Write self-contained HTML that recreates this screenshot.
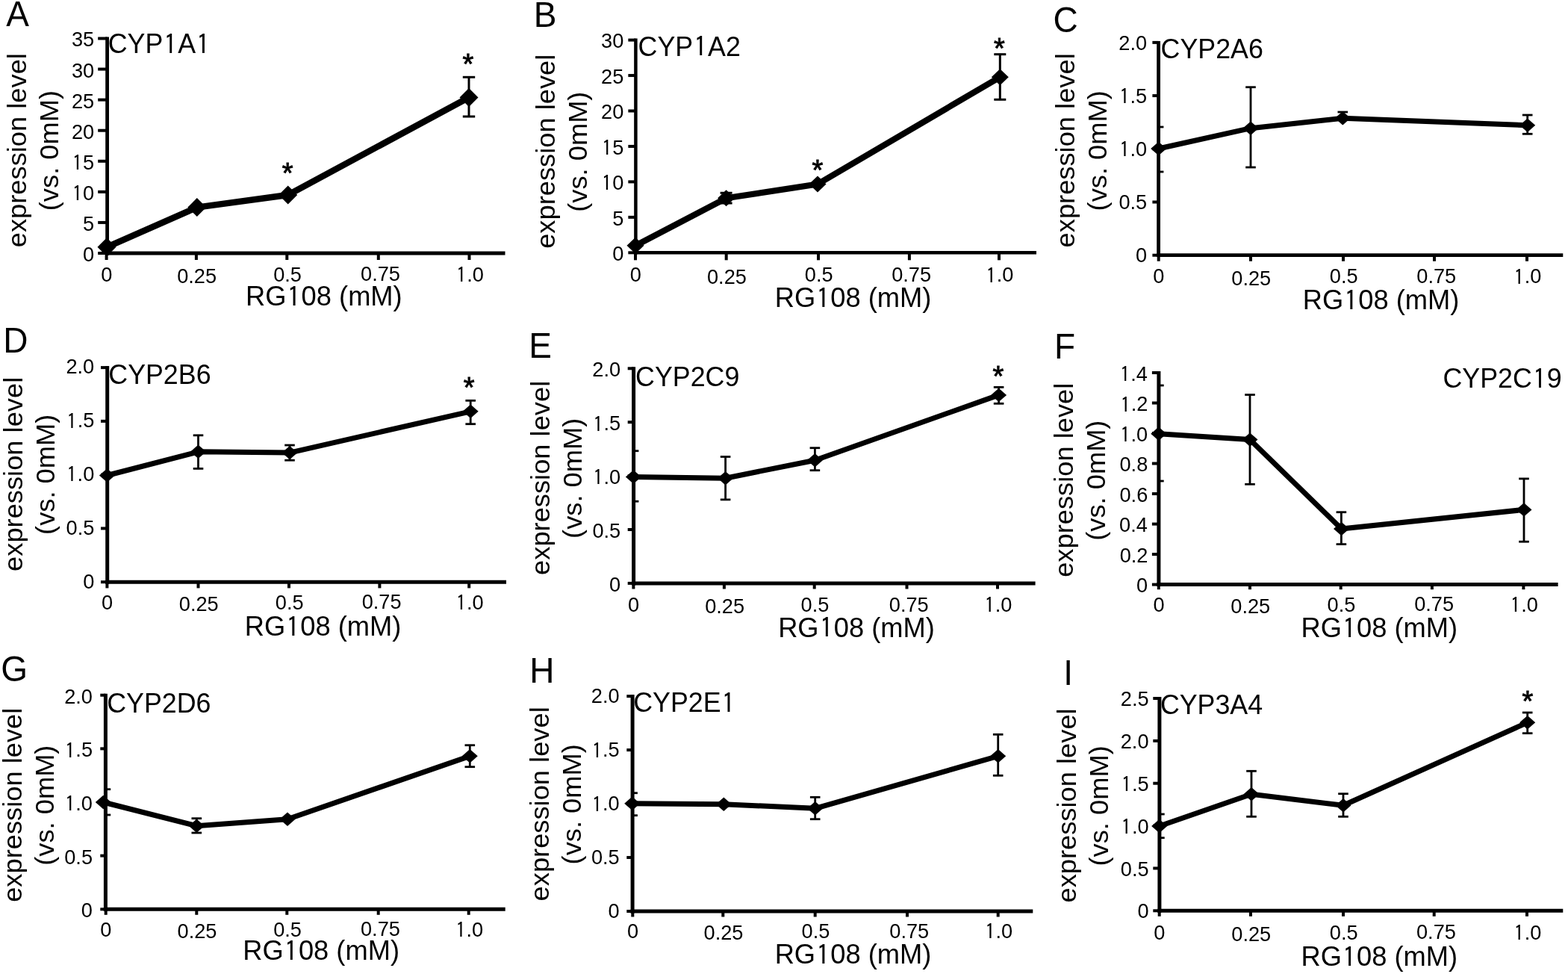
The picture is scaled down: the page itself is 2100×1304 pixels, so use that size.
<!DOCTYPE html>
<html><head><meta charset="utf-8"><style>
html,body{margin:0;padding:0;background:#fff;overflow:hidden;width:2100px;height:1304px;}
svg{display:block;}
text{font-family:"Liberation Sans", sans-serif;fill:#000;}
</style></head><body>
<svg width="2100" height="1304" viewBox="0 0 2100 1304">
<rect width="2100" height="1304" fill="#fff"/>
<text transform="translate(8.45,34.70) scale(1,1.03)" x="-0.09" y="0" font-size="46">A</text>
<text transform="translate(146.50,71.00) scale(1,1.03)" x="-1.82" y="0" font-size="35.8">CYP<tspan font-family="IPAGothic, Liberation Sans, sans-serif" dx="1.07" dy="1.83">1</tspan><tspan dx="0.93" dy="-1.83">A</tspan><tspan font-family="IPAGothic, Liberation Sans, sans-serif" dx="1.07" dy="1.83">1</tspan></text>
<text transform="translate(34.90,201.56) rotate(-90) scale(1,0.965)" x="-129.7" y="0" font-size="36.3">expression level</text>
<text transform="translate(77.90,201.56) rotate(-90) scale(1,0.965)" x="-80.66" y="0" font-size="36.3">(vs. 0mM)</text>
<text transform="translate(332.00,409.10) scale(1,1.03)" x="-2.98" y="0" font-size="36.3">RG<tspan font-family="IPAGothic, Liberation Sans, sans-serif" dx="1.09" dy="1.85">1</tspan><tspan dx="0.94" dy="-1.85">08 (mM)</tspan></text>
<line x1="131.20" y1="339.00" x2="143.60" y2="339.00" stroke="#000" stroke-width="4" stroke-linecap="butt"/>
<text transform="translate(125.10,349.99) scale(1,1.0)" x="-14.06" y="0" font-size="27.2">0</text>
<line x1="131.20" y1="297.93" x2="143.60" y2="297.93" stroke="#000" stroke-width="4" stroke-linecap="butt"/>
<text transform="translate(125.10,308.92) scale(1,1.0)" x="-13.99" y="0" font-size="27.2">5</text>
<line x1="131.20" y1="256.86" x2="143.60" y2="256.86" stroke="#000" stroke-width="4" stroke-linecap="butt"/>
<text transform="translate(125.10,267.85) scale(1,1.0)" x="-29.19" y="0" font-size="27.2"><tspan font-family="IPAGothic, Liberation Sans, sans-serif" dx="0.82" dy="1.39">1</tspan><tspan dx="0.71" dy="-1.39">0</tspan></text>
<line x1="131.20" y1="215.79" x2="143.60" y2="215.79" stroke="#000" stroke-width="4" stroke-linecap="butt"/>
<text transform="translate(125.10,226.78) scale(1,1.0)" x="-29.11" y="0" font-size="27.2"><tspan font-family="IPAGothic, Liberation Sans, sans-serif" dx="0.82" dy="1.39">1</tspan><tspan dx="0.71" dy="-1.39">5</tspan></text>
<line x1="131.20" y1="174.71" x2="143.60" y2="174.71" stroke="#000" stroke-width="4" stroke-linecap="butt"/>
<text transform="translate(125.10,185.71) scale(1,1.0)" x="-29.19" y="0" font-size="27.2">20</text>
<line x1="131.20" y1="133.64" x2="143.60" y2="133.64" stroke="#000" stroke-width="4" stroke-linecap="butt"/>
<text transform="translate(125.10,144.64) scale(1,1.0)" x="-29.11" y="0" font-size="27.2">25</text>
<line x1="131.20" y1="92.57" x2="143.60" y2="92.57" stroke="#000" stroke-width="4" stroke-linecap="butt"/>
<text transform="translate(125.10,103.56) scale(1,1.0)" x="-29.19" y="0" font-size="27.2">30</text>
<line x1="131.20" y1="51.50" x2="143.60" y2="51.50" stroke="#000" stroke-width="4" stroke-linecap="butt"/>
<text transform="translate(125.10,62.49) scale(1,1.0)" x="-29.11" y="0" font-size="27.2">35</text>
<line x1="142.60" y1="339.00" x2="142.60" y2="348.00" stroke="#000" stroke-width="4" stroke-linecap="butt"/>
<text transform="translate(142.80,376.90) scale(1,1.0)" x="-7.56" y="0" font-size="27.2">0</text>
<line x1="262.90" y1="339.00" x2="262.90" y2="348.00" stroke="#000" stroke-width="4" stroke-linecap="butt"/>
<text transform="translate(263.60,379.20) scale(1,1.0)" x="-26.43" y="0" font-size="27.2">0.25</text>
<line x1="384.30" y1="339.00" x2="384.30" y2="348.00" stroke="#000" stroke-width="4" stroke-linecap="butt"/>
<text transform="translate(385.00,376.90) scale(1,1.0)" x="-18.87" y="0" font-size="27.2">0.5</text>
<line x1="506.80" y1="339.00" x2="506.80" y2="348.00" stroke="#000" stroke-width="4" stroke-linecap="butt"/>
<text transform="translate(509.50,376.40) scale(1,1.0)" x="-26.43" y="0" font-size="27.2">0.75</text>
<line x1="628.50" y1="339.00" x2="628.50" y2="348.00" stroke="#000" stroke-width="4" stroke-linecap="butt"/>
<text transform="translate(630.50,376.90) scale(1,1.0)" x="-20.39" y="0" font-size="27.2"><tspan font-family="IPAGothic, Liberation Sans, sans-serif" dx="0.82" dy="1.39">1</tspan><tspan dx="0.71" dy="-1.39">.0</tspan></text>
<line x1="143.60" y1="49.50" x2="143.60" y2="341.40" stroke="#000" stroke-width="4.8" stroke-linecap="butt"/>
<line x1="141.20" y1="339.00" x2="676.50" y2="339.00" stroke="#000" stroke-width="4.8" stroke-linecap="butt"/>
<polyline points="143.00,330.80 263.80,277.60 385.70,261.00 628.00,130.40" fill="none" stroke="#000" stroke-width="8.5" stroke-linejoin="round"/>
<line x1="628.00" y1="103.30" x2="628.00" y2="156.00" stroke="#000" stroke-width="3" stroke-linecap="butt"/>
<line x1="619.80" y1="103.30" x2="636.20" y2="103.30" stroke="#000" stroke-width="3" stroke-linecap="butt"/>
<line x1="619.80" y1="156.00" x2="636.20" y2="156.00" stroke="#000" stroke-width="3" stroke-linecap="butt"/>
<polygon points="130.50,330.80 143.00,318.30 155.50,330.80 143.00,343.30" fill="#000"/>
<polygon points="251.30,277.60 263.80,265.10 276.30,277.60 263.80,290.10" fill="#000"/>
<polygon points="373.20,261.00 385.70,248.50 398.20,261.00 385.70,273.50" fill="#000"/>
<polygon points="615.50,130.40 628.00,117.90 640.50,130.40 628.00,142.90" fill="#000"/>
<text transform="translate(385.20,244.69) scale(1,1.03)" x="-7.4" y="0" font-size="38" stroke="#000" stroke-width="0.9">*</text>
<text transform="translate(626.80,99.29) scale(1,1.03)" x="-7.4" y="0" font-size="38" stroke="#000" stroke-width="0.9">*</text>
<text transform="translate(718.60,35.50) scale(1,1.03)" x="-3.77" y="0" font-size="46">B</text>
<text transform="translate(856.40,74.60) scale(1,1.03)" x="-1.82" y="0" font-size="35.8">CYP<tspan font-family="IPAGothic, Liberation Sans, sans-serif" dx="1.07" dy="1.83">1</tspan><tspan dx="0.93" dy="-1.83">A2</tspan></text>
<text transform="translate(742.90,203.16) rotate(-90) scale(1,0.965)" x="-129.7" y="0" font-size="36.3">expression level</text>
<text transform="translate(785.90,203.16) rotate(-90) scale(1,0.965)" x="-80.66" y="0" font-size="36.3">(vs. 0mM)</text>
<text transform="translate(1040.70,411.00) scale(1,1.03)" x="-2.98" y="0" font-size="36.3">RG<tspan font-family="IPAGothic, Liberation Sans, sans-serif" dx="1.09" dy="1.85">1</tspan><tspan dx="0.94" dy="-1.85">08 (mM)</tspan></text>
<line x1="841.35" y1="338.30" x2="851.40" y2="338.30" stroke="#000" stroke-width="4" stroke-linecap="butt"/>
<text transform="translate(834.20,348.99) scale(1,1.0)" x="-14.06" y="0" font-size="27.2">0</text>
<line x1="841.35" y1="290.85" x2="851.40" y2="290.85" stroke="#000" stroke-width="4" stroke-linecap="butt"/>
<text transform="translate(834.20,301.54) scale(1,1.0)" x="-13.99" y="0" font-size="27.2">5</text>
<line x1="841.35" y1="243.40" x2="851.40" y2="243.40" stroke="#000" stroke-width="4" stroke-linecap="butt"/>
<text transform="translate(834.20,254.09) scale(1,1.0)" x="-29.19" y="0" font-size="27.2"><tspan font-family="IPAGothic, Liberation Sans, sans-serif" dx="0.82" dy="1.39">1</tspan><tspan dx="0.71" dy="-1.39">0</tspan></text>
<line x1="841.35" y1="195.95" x2="851.40" y2="195.95" stroke="#000" stroke-width="4" stroke-linecap="butt"/>
<text transform="translate(834.20,206.64) scale(1,1.0)" x="-29.11" y="0" font-size="27.2"><tspan font-family="IPAGothic, Liberation Sans, sans-serif" dx="0.82" dy="1.39">1</tspan><tspan dx="0.71" dy="-1.39">5</tspan></text>
<line x1="841.35" y1="148.50" x2="851.40" y2="148.50" stroke="#000" stroke-width="4" stroke-linecap="butt"/>
<text transform="translate(834.20,159.19) scale(1,1.0)" x="-29.19" y="0" font-size="27.2">20</text>
<line x1="841.35" y1="101.05" x2="851.40" y2="101.05" stroke="#000" stroke-width="4" stroke-linecap="butt"/>
<text transform="translate(834.20,111.74) scale(1,1.0)" x="-29.11" y="0" font-size="27.2">25</text>
<line x1="841.35" y1="53.60" x2="851.40" y2="53.60" stroke="#000" stroke-width="4" stroke-linecap="butt"/>
<text transform="translate(834.20,64.29) scale(1,1.0)" x="-29.19" y="0" font-size="27.2">30</text>
<line x1="851.00" y1="338.30" x2="851.00" y2="348.30" stroke="#000" stroke-width="4" stroke-linecap="butt"/>
<text transform="translate(851.20,377.20) scale(1,1.0)" x="-7.56" y="0" font-size="27.2">0</text>
<line x1="972.70" y1="338.30" x2="972.70" y2="348.30" stroke="#000" stroke-width="4" stroke-linecap="butt"/>
<text transform="translate(973.40,379.50) scale(1,1.0)" x="-26.43" y="0" font-size="27.2">0.25</text>
<line x1="1096.00" y1="338.30" x2="1096.00" y2="348.30" stroke="#000" stroke-width="4" stroke-linecap="butt"/>
<text transform="translate(1096.70,377.20) scale(1,1.0)" x="-18.87" y="0" font-size="27.2">0.5</text>
<line x1="1217.90" y1="338.30" x2="1217.90" y2="348.30" stroke="#000" stroke-width="4" stroke-linecap="butt"/>
<text transform="translate(1220.60,376.70) scale(1,1.0)" x="-26.43" y="0" font-size="27.2">0.75</text>
<line x1="1338.00" y1="338.30" x2="1338.00" y2="348.30" stroke="#000" stroke-width="4" stroke-linecap="butt"/>
<text transform="translate(1340.00,377.20) scale(1,1.0)" x="-20.39" y="0" font-size="27.2"><tspan font-family="IPAGothic, Liberation Sans, sans-serif" dx="0.82" dy="1.39">1</tspan><tspan dx="0.71" dy="-1.39">.0</tspan></text>
<line x1="851.40" y1="51.60" x2="851.40" y2="340.55" stroke="#000" stroke-width="4.5" stroke-linecap="butt"/>
<line x1="849.15" y1="338.30" x2="1388.00" y2="338.30" stroke="#000" stroke-width="4.5" stroke-linecap="butt"/>
<polyline points="851.00,328.80 972.60,265.30 1095.00,246.50 1339.30,103.20" fill="none" stroke="#000" stroke-width="8.2" stroke-linejoin="round"/>
<line x1="1339.30" y1="72.70" x2="1339.30" y2="133.30" stroke="#000" stroke-width="3" stroke-linecap="butt"/>
<line x1="1331.30" y1="72.70" x2="1347.30" y2="72.70" stroke="#000" stroke-width="3" stroke-linecap="butt"/>
<line x1="1331.30" y1="133.30" x2="1347.30" y2="133.30" stroke="#000" stroke-width="3" stroke-linecap="butt"/>
<line x1="972.60" y1="258.30" x2="972.60" y2="272.00" stroke="#000" stroke-width="3" stroke-linecap="butt"/>
<line x1="964.60" y1="258.30" x2="980.60" y2="258.30" stroke="#000" stroke-width="3" stroke-linecap="butt"/>
<line x1="964.60" y1="272.00" x2="980.60" y2="272.00" stroke="#000" stroke-width="3" stroke-linecap="butt"/>
<polygon points="839.50,328.80 851.00,317.80 862.50,328.80 851.00,339.80" fill="#000"/>
<polygon points="961.10,265.30 972.60,254.30 984.10,265.30 972.60,276.30" fill="#000"/>
<polygon points="1083.50,246.50 1095.00,235.50 1106.50,246.50 1095.00,257.50" fill="#000"/>
<polygon points="1327.80,103.20 1339.30,92.20 1350.80,103.20 1339.30,114.20" fill="#000"/>
<text transform="translate(1095.00,241.19) scale(1,1.03)" x="-7.4" y="0" font-size="38" stroke="#000" stroke-width="0.9">*</text>
<text transform="translate(1338.30,77.69) scale(1,1.03)" x="-7.4" y="0" font-size="38" stroke="#000" stroke-width="0.9">*</text>
<text transform="translate(1412.90,42.50) scale(1,1.03)" x="-2.34" y="0" font-size="46">C</text>
<text transform="translate(1556.40,78.30) scale(1,1.03)" x="-1.82" y="0" font-size="35.8">CYP2A6</text>
<text transform="translate(1439.30,201.76) rotate(-90) scale(1,0.965)" x="-129.7" y="0" font-size="36.3">expression level</text>
<text transform="translate(1482.30,201.76) rotate(-90) scale(1,0.965)" x="-80.66" y="0" font-size="36.3">(vs. 0mM)</text>
<text transform="translate(1747.70,414.10) scale(1,1.03)" x="-2.98" y="0" font-size="36.3">RG<tspan font-family="IPAGothic, Liberation Sans, sans-serif" dx="1.09" dy="1.85">1</tspan><tspan dx="0.94" dy="-1.85">08 (mM)</tspan></text>
<line x1="1543.40" y1="341.70" x2="1551.60" y2="341.70" stroke="#000" stroke-width="4" stroke-linecap="butt"/>
<text transform="translate(1535.10,351.49) scale(1,1.0)" x="-14.06" y="0" font-size="27.2">0</text>
<line x1="1543.40" y1="270.50" x2="1551.60" y2="270.50" stroke="#000" stroke-width="4" stroke-linecap="butt"/>
<text transform="translate(1535.10,280.29) scale(1,1.0)" x="-36.67" y="0" font-size="27.2">0.5</text>
<line x1="1543.40" y1="199.30" x2="1551.60" y2="199.30" stroke="#000" stroke-width="4" stroke-linecap="butt"/>
<text transform="translate(1535.10,209.09) scale(1,1.0)" x="-36.75" y="0" font-size="27.2"><tspan font-family="IPAGothic, Liberation Sans, sans-serif" dx="0.82" dy="1.39">1</tspan><tspan dx="0.71" dy="-1.39">.0</tspan></text>
<line x1="1543.40" y1="128.10" x2="1551.60" y2="128.10" stroke="#000" stroke-width="4" stroke-linecap="butt"/>
<text transform="translate(1535.10,137.89) scale(1,1.0)" x="-36.67" y="0" font-size="27.2"><tspan font-family="IPAGothic, Liberation Sans, sans-serif" dx="0.82" dy="1.39">1</tspan><tspan dx="0.71" dy="-1.39">.5</tspan></text>
<line x1="1543.40" y1="56.90" x2="1551.60" y2="56.90" stroke="#000" stroke-width="4" stroke-linecap="butt"/>
<text transform="translate(1535.10,66.69) scale(1,1.0)" x="-36.75" y="0" font-size="27.2">2.0</text>
<line x1="1551.70" y1="341.70" x2="1551.70" y2="349.70" stroke="#000" stroke-width="4" stroke-linecap="butt"/>
<text transform="translate(1551.90,379.20) scale(1,1.0)" x="-7.56" y="0" font-size="27.2">0</text>
<line x1="1675.00" y1="341.70" x2="1675.00" y2="349.70" stroke="#000" stroke-width="4" stroke-linecap="butt"/>
<text transform="translate(1675.70,381.50) scale(1,1.0)" x="-26.43" y="0" font-size="27.2">0.25</text>
<line x1="1799.00" y1="341.70" x2="1799.00" y2="349.70" stroke="#000" stroke-width="4" stroke-linecap="butt"/>
<text transform="translate(1799.70,379.20) scale(1,1.0)" x="-18.87" y="0" font-size="27.2">0.5</text>
<line x1="1921.00" y1="341.70" x2="1921.00" y2="349.70" stroke="#000" stroke-width="4" stroke-linecap="butt"/>
<text transform="translate(1923.70,378.70) scale(1,1.0)" x="-26.43" y="0" font-size="27.2">0.75</text>
<line x1="2045.00" y1="341.70" x2="2045.00" y2="349.70" stroke="#000" stroke-width="4" stroke-linecap="butt"/>
<text transform="translate(2047.00,379.20) scale(1,1.0)" x="-20.39" y="0" font-size="27.2"><tspan font-family="IPAGothic, Liberation Sans, sans-serif" dx="0.82" dy="1.39">1</tspan><tspan dx="0.71" dy="-1.39">.0</tspan></text>
<line x1="1551.60" y1="54.90" x2="1551.60" y2="344.10" stroke="#000" stroke-width="4.8" stroke-linecap="butt"/>
<line x1="1549.20" y1="341.70" x2="2093.30" y2="341.70" stroke="#000" stroke-width="4.8" stroke-linecap="butt"/>
<polyline points="1551.70,199.00 1675.00,171.70 1798.30,158.30 2045.70,167.70" fill="none" stroke="#000" stroke-width="7" stroke-linejoin="round"/>
<line x1="1551.60" y1="170.00" x2="1558.40" y2="170.00" stroke="#000" stroke-width="2.8" stroke-linecap="butt"/>
<line x1="1551.60" y1="230.00" x2="1558.40" y2="230.00" stroke="#000" stroke-width="2.8" stroke-linecap="butt"/>
<line x1="1675.00" y1="116.70" x2="1675.00" y2="224.00" stroke="#000" stroke-width="2.8" stroke-linecap="butt"/>
<line x1="1668.20" y1="116.70" x2="1681.80" y2="116.70" stroke="#000" stroke-width="2.8" stroke-linecap="butt"/>
<line x1="1668.20" y1="224.00" x2="1681.80" y2="224.00" stroke="#000" stroke-width="2.8" stroke-linecap="butt"/>
<line x1="2045.70" y1="154.00" x2="2045.70" y2="179.30" stroke="#000" stroke-width="2.8" stroke-linecap="butt"/>
<line x1="2038.90" y1="154.00" x2="2052.50" y2="154.00" stroke="#000" stroke-width="2.8" stroke-linecap="butt"/>
<line x1="2038.90" y1="179.30" x2="2052.50" y2="179.30" stroke="#000" stroke-width="2.8" stroke-linecap="butt"/>
<line x1="1798.30" y1="150.00" x2="1798.30" y2="158.00" stroke="#000" stroke-width="2.8" stroke-linecap="butt"/>
<line x1="1791.50" y1="150.00" x2="1805.10" y2="150.00" stroke="#000" stroke-width="2.8" stroke-linecap="butt"/>
<line x1="1791.50" y1="158.00" x2="1805.10" y2="158.00" stroke="#000" stroke-width="2.8" stroke-linecap="butt"/>
<polygon points="1541.20,199.00 1551.70,189.80 1562.20,199.00 1551.70,208.20" fill="#000"/>
<polygon points="1664.50,171.70 1675.00,162.50 1685.50,171.70 1675.00,180.90" fill="#000"/>
<polygon points="1787.80,158.30 1798.30,149.10 1808.80,158.30 1798.30,167.50" fill="#000"/>
<polygon points="2035.20,167.70 2045.70,158.50 2056.20,167.70 2045.70,176.90" fill="#000"/>
<text transform="translate(7.90,471.70) scale(1,1.03)" x="-3.77" y="0" font-size="46">D</text>
<text transform="translate(147.10,513.60) scale(1,1.03)" x="-1.82" y="0" font-size="35.8">CYP2B6</text>
<text transform="translate(30.00,635.26) rotate(-90) scale(1,0.965)" x="-129.7" y="0" font-size="36.3">expression level</text>
<text transform="translate(73.00,635.26) rotate(-90) scale(1,0.965)" x="-80.66" y="0" font-size="36.3">(vs. 0mM)</text>
<text transform="translate(330.70,850.70) scale(1,1.03)" x="-2.98" y="0" font-size="36.3">RG<tspan font-family="IPAGothic, Liberation Sans, sans-serif" dx="1.09" dy="1.85">1</tspan><tspan dx="0.94" dy="-1.85">08 (mM)</tspan></text>
<line x1="135.00" y1="779.20" x2="143.70" y2="779.20" stroke="#000" stroke-width="4" stroke-linecap="butt"/>
<text transform="translate(125.20,787.59) scale(1,1.0)" x="-14.06" y="0" font-size="27.2">0</text>
<line x1="135.00" y1="707.43" x2="143.70" y2="707.43" stroke="#000" stroke-width="4" stroke-linecap="butt"/>
<text transform="translate(125.20,715.82) scale(1,1.0)" x="-36.67" y="0" font-size="27.2">0.5</text>
<line x1="135.00" y1="635.65" x2="143.70" y2="635.65" stroke="#000" stroke-width="4" stroke-linecap="butt"/>
<text transform="translate(125.20,644.04) scale(1,1.0)" x="-36.75" y="0" font-size="27.2"><tspan font-family="IPAGothic, Liberation Sans, sans-serif" dx="0.82" dy="1.39">1</tspan><tspan dx="0.71" dy="-1.39">.0</tspan></text>
<line x1="135.00" y1="563.88" x2="143.70" y2="563.88" stroke="#000" stroke-width="4" stroke-linecap="butt"/>
<text transform="translate(125.20,572.27) scale(1,1.0)" x="-36.67" y="0" font-size="27.2"><tspan font-family="IPAGothic, Liberation Sans, sans-serif" dx="0.82" dy="1.39">1</tspan><tspan dx="0.71" dy="-1.39">.5</tspan></text>
<line x1="135.00" y1="492.10" x2="143.70" y2="492.10" stroke="#000" stroke-width="4" stroke-linecap="butt"/>
<text transform="translate(125.20,500.49) scale(1,1.0)" x="-36.75" y="0" font-size="27.2">2.0</text>
<line x1="143.40" y1="779.20" x2="143.40" y2="787.40" stroke="#000" stroke-width="4" stroke-linecap="butt"/>
<text transform="translate(143.60,815.90) scale(1,1.0)" x="-7.56" y="0" font-size="27.2">0</text>
<line x1="265.50" y1="779.20" x2="265.50" y2="787.40" stroke="#000" stroke-width="4" stroke-linecap="butt"/>
<text transform="translate(266.20,818.20) scale(1,1.0)" x="-26.43" y="0" font-size="27.2">0.25</text>
<line x1="387.00" y1="779.20" x2="387.00" y2="787.40" stroke="#000" stroke-width="4" stroke-linecap="butt"/>
<text transform="translate(387.70,815.90) scale(1,1.0)" x="-18.87" y="0" font-size="27.2">0.5</text>
<line x1="508.40" y1="779.20" x2="508.40" y2="787.40" stroke="#000" stroke-width="4" stroke-linecap="butt"/>
<text transform="translate(511.10,815.40) scale(1,1.0)" x="-26.43" y="0" font-size="27.2">0.75</text>
<line x1="628.20" y1="779.20" x2="628.20" y2="787.40" stroke="#000" stroke-width="4" stroke-linecap="butt"/>
<text transform="translate(630.20,815.90) scale(1,1.0)" x="-20.39" y="0" font-size="27.2"><tspan font-family="IPAGothic, Liberation Sans, sans-serif" dx="0.82" dy="1.39">1</tspan><tspan dx="0.71" dy="-1.39">.0</tspan></text>
<line x1="143.70" y1="490.10" x2="143.70" y2="781.70" stroke="#000" stroke-width="5" stroke-linecap="butt"/>
<line x1="141.20" y1="779.20" x2="678.00" y2="779.20" stroke="#000" stroke-width="5" stroke-linecap="butt"/>
<polyline points="143.40,636.50 265.50,604.80 388.00,606.10 630.20,550.80" fill="none" stroke="#000" stroke-width="7" stroke-linejoin="round"/>
<line x1="265.50" y1="582.80" x2="265.50" y2="627.40" stroke="#000" stroke-width="2.8" stroke-linecap="butt"/>
<line x1="258.70" y1="582.80" x2="272.30" y2="582.80" stroke="#000" stroke-width="2.8" stroke-linecap="butt"/>
<line x1="258.70" y1="627.40" x2="272.30" y2="627.40" stroke="#000" stroke-width="2.8" stroke-linecap="butt"/>
<line x1="388.00" y1="596.00" x2="388.00" y2="616.20" stroke="#000" stroke-width="2.8" stroke-linecap="butt"/>
<line x1="381.20" y1="596.00" x2="394.80" y2="596.00" stroke="#000" stroke-width="2.8" stroke-linecap="butt"/>
<line x1="381.20" y1="616.20" x2="394.80" y2="616.20" stroke="#000" stroke-width="2.8" stroke-linecap="butt"/>
<line x1="630.20" y1="536.30" x2="630.20" y2="567.70" stroke="#000" stroke-width="2.8" stroke-linecap="butt"/>
<line x1="623.40" y1="536.30" x2="637.00" y2="536.30" stroke="#000" stroke-width="2.8" stroke-linecap="butt"/>
<line x1="623.40" y1="567.70" x2="637.00" y2="567.70" stroke="#000" stroke-width="2.8" stroke-linecap="butt"/>
<polygon points="132.90,636.50 143.40,627.30 153.90,636.50 143.40,645.70" fill="#000"/>
<polygon points="255.00,604.80 265.50,595.60 276.00,604.80 265.50,614.00" fill="#000"/>
<polygon points="377.50,606.10 388.00,596.90 398.50,606.10 388.00,615.30" fill="#000"/>
<polygon points="619.70,550.80 630.20,541.60 640.70,550.80 630.20,560.00" fill="#000"/>
<text transform="translate(628.20,532.19) scale(1,1.03)" x="-7.4" y="0" font-size="38" stroke="#000" stroke-width="0.9">*</text>
<text transform="translate(712.10,479.30) scale(1,1.03)" x="-3.77" y="0" font-size="46">E</text>
<text transform="translate(852.90,517.10) scale(1,1.03)" x="-1.82" y="0" font-size="35.8">CYP2C9</text>
<text transform="translate(735.70,640.26) rotate(-90) scale(1,0.965)" x="-129.7" y="0" font-size="36.3">expression level</text>
<text transform="translate(778.70,640.26) rotate(-90) scale(1,0.965)" x="-80.66" y="0" font-size="36.3">(vs. 0mM)</text>
<text transform="translate(1045.10,852.50) scale(1,1.03)" x="-2.98" y="0" font-size="36.3">RG<tspan font-family="IPAGothic, Liberation Sans, sans-serif" dx="1.09" dy="1.85">1</tspan><tspan dx="0.94" dy="-1.85">08 (mM)</tspan></text>
<line x1="840.70" y1="780.90" x2="848.60" y2="780.90" stroke="#000" stroke-width="4" stroke-linecap="butt"/>
<text transform="translate(830.10,791.89) scale(1,1.0)" x="-14.06" y="0" font-size="27.2">0</text>
<line x1="840.70" y1="709.00" x2="848.60" y2="709.00" stroke="#000" stroke-width="4" stroke-linecap="butt"/>
<text transform="translate(830.10,719.99) scale(1,1.0)" x="-36.67" y="0" font-size="27.2">0.5</text>
<line x1="840.70" y1="637.10" x2="848.60" y2="637.10" stroke="#000" stroke-width="4" stroke-linecap="butt"/>
<text transform="translate(830.10,648.09) scale(1,1.0)" x="-36.75" y="0" font-size="27.2"><tspan font-family="IPAGothic, Liberation Sans, sans-serif" dx="0.82" dy="1.39">1</tspan><tspan dx="0.71" dy="-1.39">.0</tspan></text>
<line x1="840.70" y1="565.20" x2="848.60" y2="565.20" stroke="#000" stroke-width="4" stroke-linecap="butt"/>
<text transform="translate(830.10,576.19) scale(1,1.0)" x="-36.67" y="0" font-size="27.2"><tspan font-family="IPAGothic, Liberation Sans, sans-serif" dx="0.82" dy="1.39">1</tspan><tspan dx="0.71" dy="-1.39">.5</tspan></text>
<line x1="840.70" y1="493.30" x2="848.60" y2="493.30" stroke="#000" stroke-width="4" stroke-linecap="butt"/>
<text transform="translate(830.10,504.29) scale(1,1.0)" x="-36.75" y="0" font-size="27.2">2.0</text>
<line x1="848.40" y1="780.90" x2="848.40" y2="788.50" stroke="#000" stroke-width="4" stroke-linecap="butt"/>
<text transform="translate(848.60,819.10) scale(1,1.0)" x="-7.56" y="0" font-size="27.2">0</text>
<line x1="969.90" y1="780.90" x2="969.90" y2="788.50" stroke="#000" stroke-width="4" stroke-linecap="butt"/>
<text transform="translate(970.60,821.40) scale(1,1.0)" x="-26.43" y="0" font-size="27.2">0.25</text>
<line x1="1090.70" y1="780.90" x2="1090.70" y2="788.50" stroke="#000" stroke-width="4" stroke-linecap="butt"/>
<text transform="translate(1091.40,819.10) scale(1,1.0)" x="-18.87" y="0" font-size="27.2">0.5</text>
<line x1="1214.50" y1="780.90" x2="1214.50" y2="788.50" stroke="#000" stroke-width="4" stroke-linecap="butt"/>
<text transform="translate(1217.20,818.60) scale(1,1.0)" x="-26.43" y="0" font-size="27.2">0.75</text>
<line x1="1336.00" y1="780.90" x2="1336.00" y2="788.50" stroke="#000" stroke-width="4" stroke-linecap="butt"/>
<text transform="translate(1338.00,819.10) scale(1,1.0)" x="-20.39" y="0" font-size="27.2"><tspan font-family="IPAGothic, Liberation Sans, sans-serif" dx="0.82" dy="1.39">1</tspan><tspan dx="0.71" dy="-1.39">.0</tspan></text>
<line x1="848.60" y1="491.30" x2="848.60" y2="783.40" stroke="#000" stroke-width="5" stroke-linecap="butt"/>
<line x1="846.10" y1="780.90" x2="1386.60" y2="780.90" stroke="#000" stroke-width="5" stroke-linecap="butt"/>
<polyline points="848.40,638.50 971.60,640.20 1091.40,616.20 1337.60,528.90" fill="none" stroke="#000" stroke-width="7" stroke-linejoin="round"/>
<line x1="848.60" y1="603.70" x2="855.40" y2="603.70" stroke="#000" stroke-width="2.8" stroke-linecap="butt"/>
<line x1="848.60" y1="671.20" x2="855.40" y2="671.20" stroke="#000" stroke-width="2.8" stroke-linecap="butt"/>
<line x1="971.60" y1="611.50" x2="971.60" y2="668.90" stroke="#000" stroke-width="2.8" stroke-linecap="butt"/>
<line x1="964.80" y1="611.50" x2="978.40" y2="611.50" stroke="#000" stroke-width="2.8" stroke-linecap="butt"/>
<line x1="964.80" y1="668.90" x2="978.40" y2="668.90" stroke="#000" stroke-width="2.8" stroke-linecap="butt"/>
<line x1="1091.40" y1="599.70" x2="1091.40" y2="629.70" stroke="#000" stroke-width="2.8" stroke-linecap="butt"/>
<line x1="1084.60" y1="599.70" x2="1098.20" y2="599.70" stroke="#000" stroke-width="2.8" stroke-linecap="butt"/>
<line x1="1084.60" y1="629.70" x2="1098.20" y2="629.70" stroke="#000" stroke-width="2.8" stroke-linecap="butt"/>
<line x1="1337.60" y1="518.40" x2="1337.60" y2="540.30" stroke="#000" stroke-width="2.8" stroke-linecap="butt"/>
<line x1="1330.80" y1="518.40" x2="1344.40" y2="518.40" stroke="#000" stroke-width="2.8" stroke-linecap="butt"/>
<line x1="1330.80" y1="540.30" x2="1344.40" y2="540.30" stroke="#000" stroke-width="2.8" stroke-linecap="butt"/>
<polygon points="837.90,638.50 848.40,629.30 858.90,638.50 848.40,647.70" fill="#000"/>
<polygon points="961.10,640.20 971.60,631.00 982.10,640.20 971.60,649.40" fill="#000"/>
<polygon points="1080.90,616.20 1091.40,607.00 1101.90,616.20 1091.40,625.40" fill="#000"/>
<polygon points="1327.10,528.90 1337.60,519.70 1348.10,528.90 1337.60,538.10" fill="#000"/>
<text transform="translate(1337.00,516.99) scale(1,1.03)" x="-7.4" y="0" font-size="38" stroke="#000" stroke-width="0.9">*</text>
<text transform="translate(1415.70,480.00) scale(1,1.03)" x="-3.77" y="0" font-size="46">F</text>
<text transform="translate(2090.00,519.40) scale(1,1.03)" x="-157.49" y="0" font-size="35.8">CYP2C<tspan font-family="IPAGothic, Liberation Sans, sans-serif" dx="1.07" dy="1.83">1</tspan><tspan dx="0.93" dy="-1.83">9</tspan></text>
<text transform="translate(1436.90,643.16) rotate(-90) scale(1,0.965)" x="-129.7" y="0" font-size="36.3">expression level</text>
<text transform="translate(1479.90,643.16) rotate(-90) scale(1,0.965)" x="-80.66" y="0" font-size="36.3">(vs. 0mM)</text>
<text transform="translate(1745.40,853.30) scale(1,1.03)" x="-2.98" y="0" font-size="36.3">RG<tspan font-family="IPAGothic, Liberation Sans, sans-serif" dx="1.09" dy="1.85">1</tspan><tspan dx="0.94" dy="-1.85">08 (mM)</tspan></text>
<line x1="1542.90" y1="782.60" x2="1551.90" y2="782.60" stroke="#000" stroke-width="4" stroke-linecap="butt"/>
<text transform="translate(1536.10,793.19) scale(1,1.0)" x="-14.06" y="0" font-size="27.2">0</text>
<line x1="1542.90" y1="742.09" x2="1551.90" y2="742.09" stroke="#000" stroke-width="4" stroke-linecap="butt"/>
<text transform="translate(1536.10,752.68) scale(1,1.0)" x="-36.44" y="0" font-size="27.2">0.2</text>
<line x1="1542.90" y1="701.57" x2="1551.90" y2="701.57" stroke="#000" stroke-width="4" stroke-linecap="butt"/>
<text transform="translate(1536.10,712.16) scale(1,1.0)" x="-37.01" y="0" font-size="27.2">0.4</text>
<line x1="1542.90" y1="661.06" x2="1551.90" y2="661.06" stroke="#000" stroke-width="4" stroke-linecap="butt"/>
<text transform="translate(1536.10,671.65) scale(1,1.0)" x="-36.62" y="0" font-size="27.2">0.6</text>
<line x1="1542.90" y1="620.54" x2="1551.90" y2="620.54" stroke="#000" stroke-width="4" stroke-linecap="butt"/>
<text transform="translate(1536.10,631.14) scale(1,1.0)" x="-36.63" y="0" font-size="27.2">0.8</text>
<line x1="1542.90" y1="580.03" x2="1551.90" y2="580.03" stroke="#000" stroke-width="4" stroke-linecap="butt"/>
<text transform="translate(1536.10,590.62) scale(1,1.0)" x="-36.75" y="0" font-size="27.2"><tspan font-family="IPAGothic, Liberation Sans, sans-serif" dx="0.82" dy="1.39">1</tspan><tspan dx="0.71" dy="-1.39">.0</tspan></text>
<line x1="1542.90" y1="539.51" x2="1551.90" y2="539.51" stroke="#000" stroke-width="4" stroke-linecap="butt"/>
<text transform="translate(1536.10,550.11) scale(1,1.0)" x="-36.44" y="0" font-size="27.2"><tspan font-family="IPAGothic, Liberation Sans, sans-serif" dx="0.82" dy="1.39">1</tspan><tspan dx="0.71" dy="-1.39">.2</tspan></text>
<line x1="1542.90" y1="499.00" x2="1551.90" y2="499.00" stroke="#000" stroke-width="4" stroke-linecap="butt"/>
<text transform="translate(1536.10,509.59) scale(1,1.0)" x="-37.01" y="0" font-size="27.2"><tspan font-family="IPAGothic, Liberation Sans, sans-serif" dx="0.82" dy="1.39">1</tspan><tspan dx="0.71" dy="-1.39">.4</tspan></text>
<line x1="1551.80" y1="782.60" x2="1551.80" y2="789.20" stroke="#000" stroke-width="4" stroke-linecap="butt"/>
<text transform="translate(1552.00,818.80) scale(1,1.0)" x="-7.56" y="0" font-size="27.2">0</text>
<line x1="1674.00" y1="782.60" x2="1674.00" y2="789.20" stroke="#000" stroke-width="4" stroke-linecap="butt"/>
<text transform="translate(1674.70,821.10) scale(1,1.0)" x="-26.43" y="0" font-size="27.2">0.25</text>
<line x1="1795.70" y1="782.60" x2="1795.70" y2="789.20" stroke="#000" stroke-width="4" stroke-linecap="butt"/>
<text transform="translate(1796.40,818.80) scale(1,1.0)" x="-18.87" y="0" font-size="27.2">0.5</text>
<line x1="1917.90" y1="782.60" x2="1917.90" y2="789.20" stroke="#000" stroke-width="4" stroke-linecap="butt"/>
<text transform="translate(1920.60,818.30) scale(1,1.0)" x="-26.43" y="0" font-size="27.2">0.75</text>
<line x1="2040.40" y1="782.60" x2="2040.40" y2="789.20" stroke="#000" stroke-width="4" stroke-linecap="butt"/>
<text transform="translate(2042.40,818.80) scale(1,1.0)" x="-20.39" y="0" font-size="27.2"><tspan font-family="IPAGothic, Liberation Sans, sans-serif" dx="0.82" dy="1.39">1</tspan><tspan dx="0.71" dy="-1.39">.0</tspan></text>
<line x1="1551.90" y1="497.00" x2="1551.90" y2="785.10" stroke="#000" stroke-width="5" stroke-linecap="butt"/>
<line x1="1549.40" y1="782.60" x2="2086.60" y2="782.60" stroke="#000" stroke-width="5" stroke-linecap="butt"/>
<polyline points="1551.80,580.80 1674.00,588.60 1796.50,708.00 2041.00,682.40" fill="none" stroke="#000" stroke-width="7" stroke-linejoin="round"/>
<line x1="1551.90" y1="516.00" x2="1558.70" y2="516.00" stroke="#000" stroke-width="2.8" stroke-linecap="butt"/>
<line x1="1551.90" y1="644.00" x2="1558.70" y2="644.00" stroke="#000" stroke-width="2.8" stroke-linecap="butt"/>
<line x1="1674.00" y1="528.50" x2="1674.00" y2="648.30" stroke="#000" stroke-width="2.8" stroke-linecap="butt"/>
<line x1="1667.20" y1="528.50" x2="1680.80" y2="528.50" stroke="#000" stroke-width="2.8" stroke-linecap="butt"/>
<line x1="1667.20" y1="648.30" x2="1680.80" y2="648.30" stroke="#000" stroke-width="2.8" stroke-linecap="butt"/>
<line x1="1796.40" y1="685.70" x2="1796.40" y2="728.60" stroke="#000" stroke-width="2.8" stroke-linecap="butt"/>
<line x1="1789.60" y1="685.70" x2="1803.20" y2="685.70" stroke="#000" stroke-width="2.8" stroke-linecap="butt"/>
<line x1="1789.60" y1="728.60" x2="1803.20" y2="728.60" stroke="#000" stroke-width="2.8" stroke-linecap="butt"/>
<line x1="2041.00" y1="640.90" x2="2041.00" y2="725.20" stroke="#000" stroke-width="2.8" stroke-linecap="butt"/>
<line x1="2034.20" y1="640.90" x2="2047.80" y2="640.90" stroke="#000" stroke-width="2.8" stroke-linecap="butt"/>
<line x1="2034.20" y1="725.20" x2="2047.80" y2="725.20" stroke="#000" stroke-width="2.8" stroke-linecap="butt"/>
<polygon points="1541.30,580.80 1551.80,571.60 1562.30,580.80 1551.80,590.00" fill="#000"/>
<polygon points="1663.50,588.60 1674.00,579.40 1684.50,588.60 1674.00,597.80" fill="#000"/>
<polygon points="1786.00,708.00 1796.50,698.80 1807.00,708.00 1796.50,717.20" fill="#000"/>
<polygon points="2030.50,682.40 2041.00,673.20 2051.50,682.40 2041.00,691.60" fill="#000"/>
<text transform="translate(3.60,911.60) scale(1,1.03)" x="-2.31" y="0" font-size="46">G</text>
<text transform="translate(145.00,954.30) scale(1,1.03)" x="-1.82" y="0" font-size="35.8">CYP2D6</text>
<text transform="translate(28.60,1078.16) rotate(-90) scale(1,0.965)" x="-129.7" y="0" font-size="36.3">expression level</text>
<text transform="translate(71.60,1078.16) rotate(-90) scale(1,0.965)" x="-80.66" y="0" font-size="36.3">(vs. 0mM)</text>
<text transform="translate(328.30,1285.00) scale(1,1.03)" x="-2.98" y="0" font-size="36.3">RG<tspan font-family="IPAGothic, Liberation Sans, sans-serif" dx="1.09" dy="1.85">1</tspan><tspan dx="0.94" dy="-1.85">08 (mM)</tspan></text>
<line x1="134.30" y1="1217.30" x2="141.40" y2="1217.30" stroke="#000" stroke-width="4" stroke-linecap="butt"/>
<text transform="translate(122.90,1228.39) scale(1,1.0)" x="-14.06" y="0" font-size="27.2">0</text>
<line x1="134.30" y1="1145.65" x2="141.40" y2="1145.65" stroke="#000" stroke-width="4" stroke-linecap="butt"/>
<text transform="translate(122.90,1156.74) scale(1,1.0)" x="-36.67" y="0" font-size="27.2">0.5</text>
<line x1="134.30" y1="1074.00" x2="141.40" y2="1074.00" stroke="#000" stroke-width="4" stroke-linecap="butt"/>
<text transform="translate(122.90,1085.09) scale(1,1.0)" x="-36.75" y="0" font-size="27.2"><tspan font-family="IPAGothic, Liberation Sans, sans-serif" dx="0.82" dy="1.39">1</tspan><tspan dx="0.71" dy="-1.39">.0</tspan></text>
<line x1="134.30" y1="1002.35" x2="141.40" y2="1002.35" stroke="#000" stroke-width="4" stroke-linecap="butt"/>
<text transform="translate(122.90,1013.44) scale(1,1.0)" x="-36.67" y="0" font-size="27.2"><tspan font-family="IPAGothic, Liberation Sans, sans-serif" dx="0.82" dy="1.39">1</tspan><tspan dx="0.71" dy="-1.39">.5</tspan></text>
<line x1="134.30" y1="930.70" x2="141.40" y2="930.70" stroke="#000" stroke-width="4" stroke-linecap="butt"/>
<text transform="translate(122.90,941.79) scale(1,1.0)" x="-36.75" y="0" font-size="27.2">2.0</text>
<line x1="141.70" y1="1217.30" x2="141.70" y2="1224.80" stroke="#000" stroke-width="4" stroke-linecap="butt"/>
<text transform="translate(141.90,1253.70) scale(1,1.0)" x="-7.56" y="0" font-size="27.2">0</text>
<line x1="263.30" y1="1217.30" x2="263.30" y2="1224.80" stroke="#000" stroke-width="4" stroke-linecap="butt"/>
<text transform="translate(264.00,1256.00) scale(1,1.0)" x="-26.43" y="0" font-size="27.2">0.25</text>
<line x1="384.30" y1="1217.30" x2="384.30" y2="1224.80" stroke="#000" stroke-width="4" stroke-linecap="butt"/>
<text transform="translate(385.00,1253.70) scale(1,1.0)" x="-18.87" y="0" font-size="27.2">0.5</text>
<line x1="506.70" y1="1217.30" x2="506.70" y2="1224.80" stroke="#000" stroke-width="4" stroke-linecap="butt"/>
<text transform="translate(509.40,1253.20) scale(1,1.0)" x="-26.43" y="0" font-size="27.2">0.75</text>
<line x1="627.70" y1="1217.30" x2="627.70" y2="1224.80" stroke="#000" stroke-width="4" stroke-linecap="butt"/>
<text transform="translate(629.70,1253.70) scale(1,1.0)" x="-20.39" y="0" font-size="27.2"><tspan font-family="IPAGothic, Liberation Sans, sans-serif" dx="0.82" dy="1.39">1</tspan><tspan dx="0.71" dy="-1.39">.0</tspan></text>
<line x1="141.40" y1="928.70" x2="141.40" y2="1219.80" stroke="#000" stroke-width="5" stroke-linecap="butt"/>
<line x1="138.90" y1="1217.30" x2="676.70" y2="1217.30" stroke="#000" stroke-width="5" stroke-linecap="butt"/>
<polyline points="138.30,1074.00 263.30,1105.70 385.00,1096.70 629.30,1012.30" fill="none" stroke="#000" stroke-width="7" stroke-linejoin="round"/>
<line x1="141.40" y1="1056.70" x2="148.20" y2="1056.70" stroke="#000" stroke-width="2.8" stroke-linecap="butt"/>
<line x1="141.40" y1="1091.00" x2="148.20" y2="1091.00" stroke="#000" stroke-width="2.8" stroke-linecap="butt"/>
<line x1="263.30" y1="1095.70" x2="263.30" y2="1115.00" stroke="#000" stroke-width="2.8" stroke-linecap="butt"/>
<line x1="256.50" y1="1095.70" x2="270.10" y2="1095.70" stroke="#000" stroke-width="2.8" stroke-linecap="butt"/>
<line x1="256.50" y1="1115.00" x2="270.10" y2="1115.00" stroke="#000" stroke-width="2.8" stroke-linecap="butt"/>
<line x1="629.30" y1="997.70" x2="629.30" y2="1026.70" stroke="#000" stroke-width="2.8" stroke-linecap="butt"/>
<line x1="622.50" y1="997.70" x2="636.10" y2="997.70" stroke="#000" stroke-width="2.8" stroke-linecap="butt"/>
<line x1="622.50" y1="1026.70" x2="636.10" y2="1026.70" stroke="#000" stroke-width="2.8" stroke-linecap="butt"/>
<polygon points="127.80,1074.00 138.30,1064.80 148.80,1074.00 138.30,1083.20" fill="#000"/>
<polygon points="252.80,1105.70 263.30,1096.50 273.80,1105.70 263.30,1114.90" fill="#000"/>
<polygon points="374.50,1096.70 385.00,1087.50 395.50,1096.70 385.00,1105.90" fill="#000"/>
<polygon points="618.80,1012.30 629.30,1003.10 639.80,1012.30 629.30,1021.50" fill="#000"/>
<text transform="translate(712.90,914.30) scale(1,1.03)" x="-3.77" y="0" font-size="46">H</text>
<text transform="translate(850.00,953.10) scale(1,1.03)" x="-1.82" y="0" font-size="35.8">CYP2E<tspan font-family="IPAGothic, Liberation Sans, sans-serif" dx="1.07" dy="1.83">1</tspan></text>
<text transform="translate(735.00,1076.76) rotate(-90) scale(1,0.965)" x="-129.7" y="0" font-size="36.3">expression level</text>
<text transform="translate(778.00,1076.76) rotate(-90) scale(1,0.965)" x="-80.66" y="0" font-size="36.3">(vs. 0mM)</text>
<text transform="translate(1040.60,1289.80) scale(1,1.03)" x="-2.98" y="0" font-size="36.3">RG<tspan font-family="IPAGothic, Liberation Sans, sans-serif" dx="1.09" dy="1.85">1</tspan><tspan dx="0.94" dy="-1.85">08 (mM)</tspan></text>
<line x1="839.30" y1="1220.00" x2="847.10" y2="1220.00" stroke="#000" stroke-width="4" stroke-linecap="butt"/>
<text transform="translate(828.60,1229.09) scale(1,1.0)" x="-14.06" y="0" font-size="27.2">0</text>
<line x1="839.30" y1="1148.03" x2="847.10" y2="1148.03" stroke="#000" stroke-width="4" stroke-linecap="butt"/>
<text transform="translate(828.60,1157.12) scale(1,1.0)" x="-36.67" y="0" font-size="27.2">0.5</text>
<line x1="839.30" y1="1076.05" x2="847.10" y2="1076.05" stroke="#000" stroke-width="4" stroke-linecap="butt"/>
<text transform="translate(828.60,1085.14) scale(1,1.0)" x="-36.75" y="0" font-size="27.2"><tspan font-family="IPAGothic, Liberation Sans, sans-serif" dx="0.82" dy="1.39">1</tspan><tspan dx="0.71" dy="-1.39">.0</tspan></text>
<line x1="839.30" y1="1004.08" x2="847.10" y2="1004.08" stroke="#000" stroke-width="4" stroke-linecap="butt"/>
<text transform="translate(828.60,1013.17) scale(1,1.0)" x="-36.67" y="0" font-size="27.2"><tspan font-family="IPAGothic, Liberation Sans, sans-serif" dx="0.82" dy="1.39">1</tspan><tspan dx="0.71" dy="-1.39">.5</tspan></text>
<line x1="839.30" y1="932.10" x2="847.10" y2="932.10" stroke="#000" stroke-width="4" stroke-linecap="butt"/>
<text transform="translate(828.60,941.19) scale(1,1.0)" x="-36.75" y="0" font-size="27.2">2.0</text>
<line x1="847.30" y1="1220.00" x2="847.30" y2="1227.50" stroke="#000" stroke-width="4" stroke-linecap="butt"/>
<text transform="translate(847.50,1256.10) scale(1,1.0)" x="-7.56" y="0" font-size="27.2">0</text>
<line x1="968.30" y1="1220.00" x2="968.30" y2="1227.50" stroke="#000" stroke-width="4" stroke-linecap="butt"/>
<text transform="translate(969.00,1258.40) scale(1,1.0)" x="-26.43" y="0" font-size="27.2">0.25</text>
<line x1="1091.70" y1="1220.00" x2="1091.70" y2="1227.50" stroke="#000" stroke-width="4" stroke-linecap="butt"/>
<text transform="translate(1092.40,1256.10) scale(1,1.0)" x="-18.87" y="0" font-size="27.2">0.5</text>
<line x1="1215.00" y1="1220.00" x2="1215.00" y2="1227.50" stroke="#000" stroke-width="4" stroke-linecap="butt"/>
<text transform="translate(1217.70,1255.60) scale(1,1.0)" x="-26.43" y="0" font-size="27.2">0.75</text>
<line x1="1336.70" y1="1220.00" x2="1336.70" y2="1227.50" stroke="#000" stroke-width="4" stroke-linecap="butt"/>
<text transform="translate(1338.70,1256.10) scale(1,1.0)" x="-20.39" y="0" font-size="27.2"><tspan font-family="IPAGothic, Liberation Sans, sans-serif" dx="0.82" dy="1.39">1</tspan><tspan dx="0.71" dy="-1.39">.0</tspan></text>
<line x1="847.10" y1="930.10" x2="847.10" y2="1222.50" stroke="#000" stroke-width="5" stroke-linecap="butt"/>
<line x1="844.60" y1="1220.00" x2="1383.30" y2="1220.00" stroke="#000" stroke-width="5" stroke-linecap="butt"/>
<polyline points="846.70,1075.70 969.30,1076.70 1091.70,1082.30 1336.70,1012.30" fill="none" stroke="#000" stroke-width="7" stroke-linejoin="round"/>
<line x1="847.10" y1="1061.70" x2="853.90" y2="1061.70" stroke="#000" stroke-width="2.8" stroke-linecap="butt"/>
<line x1="847.10" y1="1091.70" x2="853.90" y2="1091.70" stroke="#000" stroke-width="2.8" stroke-linecap="butt"/>
<line x1="1091.70" y1="1067.30" x2="1091.70" y2="1096.70" stroke="#000" stroke-width="2.8" stroke-linecap="butt"/>
<line x1="1084.90" y1="1067.30" x2="1098.50" y2="1067.30" stroke="#000" stroke-width="2.8" stroke-linecap="butt"/>
<line x1="1084.90" y1="1096.70" x2="1098.50" y2="1096.70" stroke="#000" stroke-width="2.8" stroke-linecap="butt"/>
<line x1="1336.70" y1="983.30" x2="1336.70" y2="1038.30" stroke="#000" stroke-width="2.8" stroke-linecap="butt"/>
<line x1="1329.90" y1="983.30" x2="1343.50" y2="983.30" stroke="#000" stroke-width="2.8" stroke-linecap="butt"/>
<line x1="1329.90" y1="1038.30" x2="1343.50" y2="1038.30" stroke="#000" stroke-width="2.8" stroke-linecap="butt"/>
<polygon points="836.20,1075.70 846.70,1066.50 857.20,1075.70 846.70,1084.90" fill="#000"/>
<polygon points="958.80,1076.70 969.30,1067.50 979.80,1076.70 969.30,1085.90" fill="#000"/>
<polygon points="1081.20,1082.30 1091.70,1073.10 1102.20,1082.30 1091.70,1091.50" fill="#000"/>
<polygon points="1326.20,1012.30 1336.70,1003.10 1347.20,1012.30 1336.70,1021.50" fill="#000"/>
<text transform="translate(1428.60,917.10) scale(1,1.03)" x="-4.25" y="0" font-size="46">I</text>
<text transform="translate(1555.70,955.70) scale(1,1.03)" x="-1.82" y="0" font-size="35.8">CYP3A4</text>
<text transform="translate(1441.40,1078.86) rotate(-90) scale(1,0.965)" x="-129.7" y="0" font-size="36.3">expression level</text>
<text transform="translate(1484.40,1078.86) rotate(-90) scale(1,0.965)" x="-80.66" y="0" font-size="36.3">(vs. 0mM)</text>
<text transform="translate(1745.40,1292.90) scale(1,1.03)" x="-2.98" y="0" font-size="36.3">RG<tspan font-family="IPAGothic, Liberation Sans, sans-serif" dx="1.09" dy="1.85">1</tspan><tspan dx="0.94" dy="-1.85">08 (mM)</tspan></text>
<line x1="1544.30" y1="1219.30" x2="1552.90" y2="1219.30" stroke="#000" stroke-width="4" stroke-linecap="butt"/>
<text transform="translate(1537.50,1229.39) scale(1,1.0)" x="-14.06" y="0" font-size="27.2">0</text>
<line x1="1544.30" y1="1162.44" x2="1552.90" y2="1162.44" stroke="#000" stroke-width="4" stroke-linecap="butt"/>
<text transform="translate(1537.50,1172.53) scale(1,1.0)" x="-36.67" y="0" font-size="27.2">0.5</text>
<line x1="1544.30" y1="1105.58" x2="1552.90" y2="1105.58" stroke="#000" stroke-width="4" stroke-linecap="butt"/>
<text transform="translate(1537.50,1115.67) scale(1,1.0)" x="-36.75" y="0" font-size="27.2"><tspan font-family="IPAGothic, Liberation Sans, sans-serif" dx="0.82" dy="1.39">1</tspan><tspan dx="0.71" dy="-1.39">.0</tspan></text>
<line x1="1544.30" y1="1048.72" x2="1552.90" y2="1048.72" stroke="#000" stroke-width="4" stroke-linecap="butt"/>
<text transform="translate(1537.50,1058.81) scale(1,1.0)" x="-36.67" y="0" font-size="27.2"><tspan font-family="IPAGothic, Liberation Sans, sans-serif" dx="0.82" dy="1.39">1</tspan><tspan dx="0.71" dy="-1.39">.5</tspan></text>
<line x1="1544.30" y1="991.86" x2="1552.90" y2="991.86" stroke="#000" stroke-width="4" stroke-linecap="butt"/>
<text transform="translate(1537.50,1001.95) scale(1,1.0)" x="-36.75" y="0" font-size="27.2">2.0</text>
<line x1="1544.30" y1="935.00" x2="1552.90" y2="935.00" stroke="#000" stroke-width="4" stroke-linecap="butt"/>
<text transform="translate(1537.50,945.09) scale(1,1.0)" x="-36.67" y="0" font-size="27.2">2.5</text>
<line x1="1552.70" y1="1219.30" x2="1552.70" y2="1226.80" stroke="#000" stroke-width="4" stroke-linecap="butt"/>
<text transform="translate(1552.90,1257.90) scale(1,1.0)" x="-7.56" y="0" font-size="27.2">0</text>
<line x1="1675.00" y1="1219.30" x2="1675.00" y2="1226.80" stroke="#000" stroke-width="4" stroke-linecap="butt"/>
<text transform="translate(1675.70,1260.20) scale(1,1.0)" x="-26.43" y="0" font-size="27.2">0.25</text>
<line x1="1799.00" y1="1219.30" x2="1799.00" y2="1226.80" stroke="#000" stroke-width="4" stroke-linecap="butt"/>
<text transform="translate(1799.70,1257.90) scale(1,1.0)" x="-18.87" y="0" font-size="27.2">0.5</text>
<line x1="1920.70" y1="1219.30" x2="1920.70" y2="1226.80" stroke="#000" stroke-width="4" stroke-linecap="butt"/>
<text transform="translate(1923.40,1257.40) scale(1,1.0)" x="-26.43" y="0" font-size="27.2">0.75</text>
<line x1="2045.00" y1="1219.30" x2="2045.00" y2="1226.80" stroke="#000" stroke-width="4" stroke-linecap="butt"/>
<text transform="translate(2047.00,1257.90) scale(1,1.0)" x="-20.39" y="0" font-size="27.2"><tspan font-family="IPAGothic, Liberation Sans, sans-serif" dx="0.82" dy="1.39">1</tspan><tspan dx="0.71" dy="-1.39">.0</tspan></text>
<line x1="1552.90" y1="933.00" x2="1552.90" y2="1221.80" stroke="#000" stroke-width="5" stroke-linecap="butt"/>
<line x1="1550.40" y1="1219.30" x2="2093.30" y2="1219.30" stroke="#000" stroke-width="5" stroke-linecap="butt"/>
<polyline points="1552.70,1106.00 1676.00,1063.30 1799.00,1078.30 2045.70,967.30" fill="none" stroke="#000" stroke-width="7" stroke-linejoin="round"/>
<line x1="1552.90" y1="1090.00" x2="1559.70" y2="1090.00" stroke="#000" stroke-width="2.8" stroke-linecap="butt"/>
<line x1="1552.90" y1="1121.70" x2="1559.70" y2="1121.70" stroke="#000" stroke-width="2.8" stroke-linecap="butt"/>
<line x1="1676.00" y1="1032.30" x2="1676.00" y2="1093.30" stroke="#000" stroke-width="2.8" stroke-linecap="butt"/>
<line x1="1669.20" y1="1032.30" x2="1682.80" y2="1032.30" stroke="#000" stroke-width="2.8" stroke-linecap="butt"/>
<line x1="1669.20" y1="1093.30" x2="1682.80" y2="1093.30" stroke="#000" stroke-width="2.8" stroke-linecap="butt"/>
<line x1="1799.00" y1="1062.70" x2="1799.00" y2="1093.30" stroke="#000" stroke-width="2.8" stroke-linecap="butt"/>
<line x1="1792.20" y1="1062.70" x2="1805.80" y2="1062.70" stroke="#000" stroke-width="2.8" stroke-linecap="butt"/>
<line x1="1792.20" y1="1093.30" x2="1805.80" y2="1093.30" stroke="#000" stroke-width="2.8" stroke-linecap="butt"/>
<line x1="2045.70" y1="954.00" x2="2045.70" y2="981.70" stroke="#000" stroke-width="2.8" stroke-linecap="butt"/>
<line x1="2038.90" y1="954.00" x2="2052.50" y2="954.00" stroke="#000" stroke-width="2.8" stroke-linecap="butt"/>
<line x1="2038.90" y1="981.70" x2="2052.50" y2="981.70" stroke="#000" stroke-width="2.8" stroke-linecap="butt"/>
<polygon points="1542.20,1106.00 1552.70,1096.80 1563.20,1106.00 1552.70,1115.20" fill="#000"/>
<polygon points="1665.50,1063.30 1676.00,1054.10 1686.50,1063.30 1676.00,1072.50" fill="#000"/>
<polygon points="1788.50,1078.30 1799.00,1069.10 1809.50,1078.30 1799.00,1087.50" fill="#000"/>
<polygon points="2035.20,967.30 2045.70,958.10 2056.20,967.30 2045.70,976.50" fill="#000"/>
<text transform="translate(2046.00,952.49) scale(1,1.03)" x="-7.4" y="0" font-size="38" stroke="#000" stroke-width="0.9">*</text>
</svg>
</body></html>
